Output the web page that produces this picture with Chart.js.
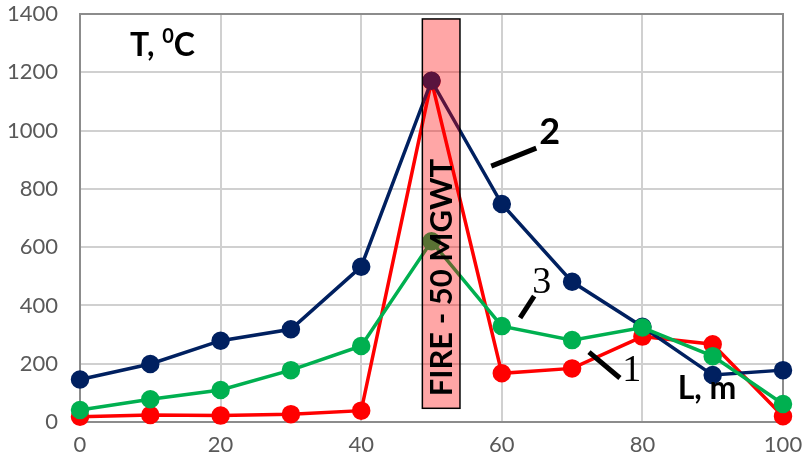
<!DOCTYPE html>
<html>
<head>
<meta charset="utf-8">
<script src="https://cdn.jsdelivr.net/npm/chart.js@4"></script>
<style>
  body { margin: 0; background: #fff; }
  #wrap { width: 803px; height: 466px; }
</style>
</head>
<body>
<div id="wrap"><canvas id="chart" width="803" height="466"></canvas></div>
<script>
// distance along the tunnel, m
const distances = [0, 10, 20, 30, 40, 50, 60, 70, 80, 90, 100];
// temperature curves, deg C
const curve1 = [18, 24, 22, 27, 39, 1170, 167, 184, 293, 267, 20];
const curve2 = [146, 199, 279, 318, 533, 1171, 748, 481, 327, 161, 178];
const curve3 = [41, 78, 110, 178, 261, 620, 329, 281, 324, 226, 62];
const xTicks = [0, 20, 40, 60, 80, 100];
const yTicks = [0, 200, 400, 600, 800, 1000, 1200, 1400];
// fire zone box (x from, x to, T from, T to)
const fireZone = [48.7, 54.05, 47, 1383];
const fireLabel = "FIRE - 50 MGWT";

const toPoints = vals => vals.map((v, i) => ({ x: distances[i], y: v }));

function line(label, data, color) {
  return {
    label,
    data: toPoints(data),
    showLine: true,
    clip: false,
    borderColor: color,
    backgroundColor: color,
    borderWidth: 3.5,
    pointRadius: 7.5,
    pointHoverRadius: 7.5,
    tension: 0
  };
}

const overlay = {
  id: "overlay",
  beforeDatasetsDraw(chart) {
    // frame under the lines
    const { ctx, chartArea: a } = chart;
    ctx.save();
    ctx.strokeStyle = "#8c8c8c";
    ctx.lineWidth = 2;
    ctx.strokeRect(a.left, a.top, a.right - a.left, a.bottom - a.top);
    ctx.restore();
  },
  afterDatasetsDraw(chart) {
    const { ctx, scales: { x, y } } = chart;
    ctx.save();

    // fire zone
    const x0 = x.getPixelForValue(fireZone[0]);
    const x1 = x.getPixelForValue(fireZone[1]);
    const y0 = y.getPixelForValue(fireZone[3]);
    const y1 = y.getPixelForValue(fireZone[2]);
    ctx.fillStyle = "rgba(255,0,0,0.35)";
    ctx.fillRect(x0, y0, x1 - x0, y1 - y0);
    ctx.strokeStyle = "#000";
    ctx.lineWidth = 1.5;
    ctx.strokeRect(x0, y0, x1 - x0, y1 - y0);

    ctx.save();
    ctx.translate((x0 + x1) / 2 + 1, y.getPixelForValue(88));
    ctx.rotate(-Math.PI / 2);
    ctx.fillStyle = "#000";
    ctx.font = "bold 31px Lato";
    ctx.textAlign = "left";
    ctx.textBaseline = "middle";
    ctx.fillText(fireLabel, 0, 0);
    ctx.restore();

    // leader lines
    const seg = (ax, ay, bx, by) => {
      ctx.beginPath();
      ctx.moveTo(x.getPixelForValue(ax), y.getPixelForValue(ay));
      ctx.lineTo(x.getPixelForValue(bx), y.getPixelForValue(by));
      ctx.stroke();
    };
    ctx.strokeStyle = "#000";
    ctx.lineWidth = 5;
    seg(58.5, 878, 64.9, 940);
    seg(62.6, 357, 64.6, 432);
    seg(72.4, 240, 76.8, 151);

    ctx.fillStyle = "#000";
    ctx.textAlign = "center";
    ctx.textBaseline = "middle";
    ctx.font = "bold 36px Lato";
    ctx.fillText("2", x.getPixelForValue(66.8), y.getPixelForValue(995));
    ctx.font = "38px 'Liberation Serif'";
    ctx.fillText("3", x.getPixelForValue(65.7), y.getPixelForValue(477));
    ctx.fillText("1", x.getPixelForValue(78.5), y.getPixelForValue(175));

    // axis titles
    ctx.font = "bold 32px Lato";
    ctx.fillText("L, m", x.getPixelForValue(89.2), y.getPixelForValue(113));

    ctx.textAlign = "left";
    let tx = x.getPixelForValue(7.1);
    const ty = y.getPixelForValue(1290);
    ctx.fillText("T, ", tx, ty);
    tx += ctx.measureText("T, ").width;
    ctx.font = "bold 20px Lato";
    ctx.fillText("0", tx, ty - 10);
    tx += ctx.measureText("0").width;
    ctx.font = "bold 32px Lato";
    ctx.fillText("C", tx, ty);

    ctx.restore();
  }
};

new Chart(document.getElementById("chart"), {
  type: "scatter",
  data: {
    datasets: [
      line("3", curve3, "#00b050"),
      line("2", curve2, "#002060"),
      line("1", curve1, "#ff0000")
    ]
  },
  options: {
    responsive: false,
    animation: false,
    layout: { autoPadding: false, padding: { top: 14, right: 20, left: 0, bottom: 0 } },
    plugins: { legend: { display: false }, tooltip: { enabled: false } },
    scales: {
      x: {
        type: "linear",
        min: 0,
        max: 100,
        afterFit(s) { s.height = 44; },
        afterBuildTicks(s) { s.ticks = xTicks.map(v => ({ value: v })); },
        grid: { color: "#d0d0d0", lineWidth: 2, drawTicks: true, tickLength: 10, tickColor: "rgba(0,0,0,0)" },
        border: { color: "#8c8c8c", width: 2 },
        ticks: { color: "#595959", font: { family: "Lato", size: 22 }, padding: 0, callback: v => String(v) }
      },
      y: {
        min: 0,
        max: 1400,
        afterFit(s) { s.width = 80; },
        afterBuildTicks(s) { s.ticks = yTicks.map(v => ({ value: v })); },
        grid: { color: "#d0d0d0", lineWidth: 2, drawTicks: true, tickLength: 22, tickColor: "rgba(0,0,0,0)" },
        border: { color: "#8c8c8c", width: 2 },
        ticks: { color: "#595959", font: { family: "Lato", size: 22 }, padding: 0, callback: v => String(v) }
      }
    }
  },
  plugins: [overlay]
});
</script>
</body>
</html>
